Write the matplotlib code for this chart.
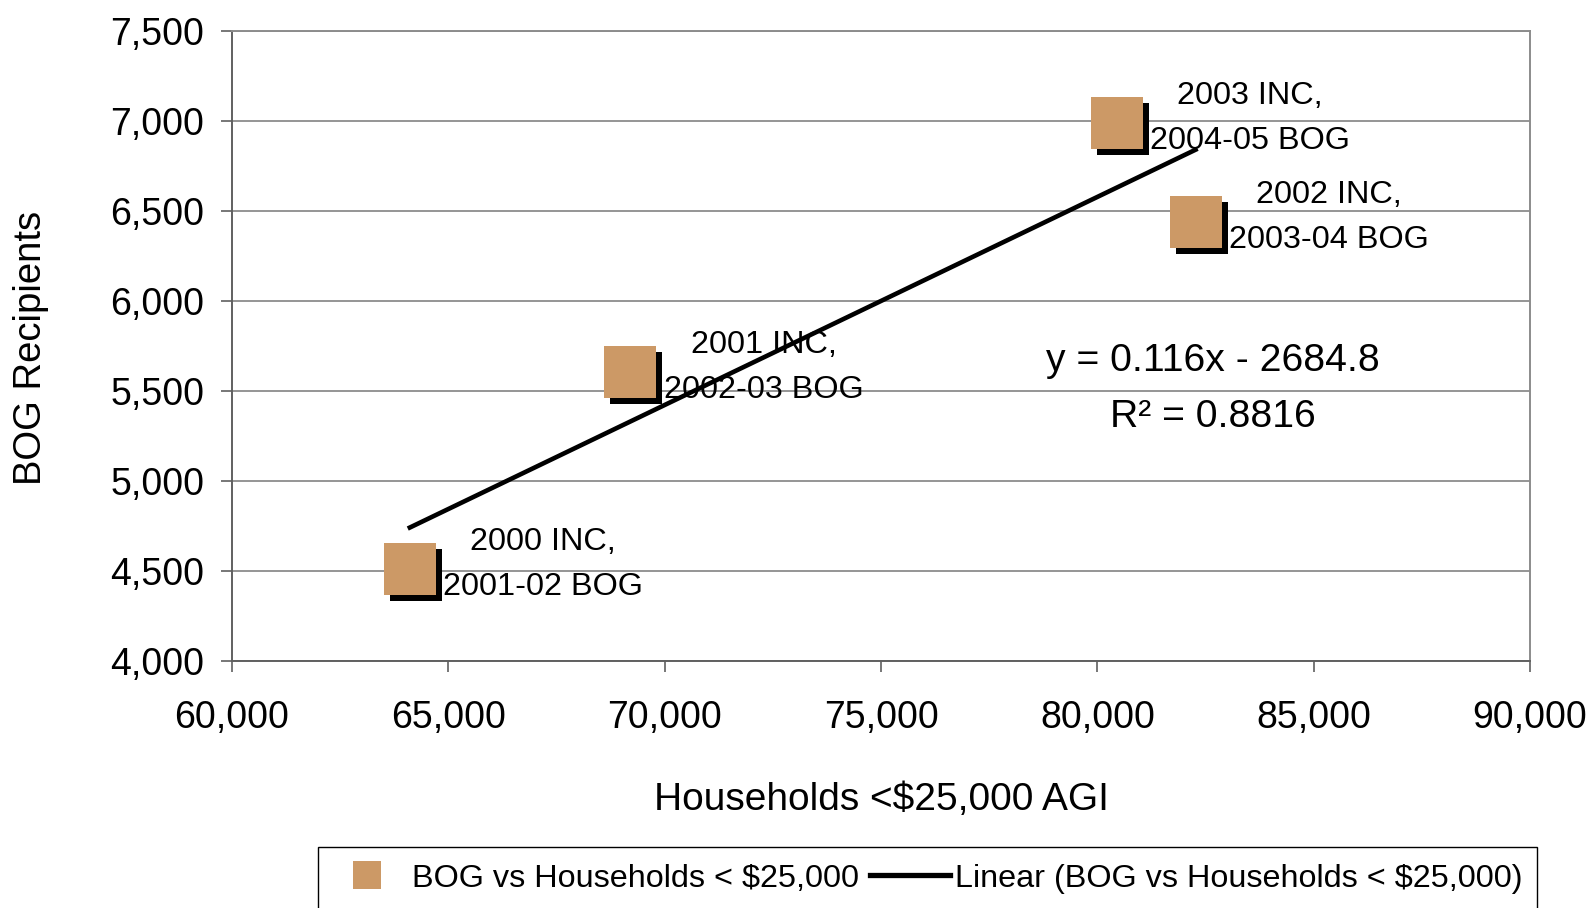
import matplotlib
matplotlib.use("Agg")
import matplotlib.pyplot as plt
import matplotlib.transforms as mtransforms
from matplotlib.lines import Line2D
from matplotlib.patches import Rectangle
from matplotlib.ticker import FuncFormatter
import numpy as np

plt.rcParams['font.family'] = ['Liberation Sans', 'DejaVu Sans']

# ---- data ----
households = [64110, 69210, 80460, 82270]
bog_recipients = [4508, 5604, 6987, 6439]
label_top = ["2000 INC,", "2001 INC,", "2003 INC,", "2002 INC,"]
label_bottom = ["2001-02 BOG", "2002-03 BOG", "2004-05 BOG", "2003-04 BOG"]
x_ticks = [60000, 65000, 70000, 75000, 80000, 85000, 90000]
y_ticks = [4000, 4500, 5000, 5500, 6000, 6500, 7000, 7500]
equation_text = "y = 0.116x - 2684.8"
r2_text = "R² = 0.8816"
x_label = "Households <$25,000 AGI"
y_label = "BOG Recipients"
series_name = "BOG vs Households < $25,000"
trend_name = "Linear (BOG vs Households < $25,000)"

TAN = '#CC9966'
GRID = '#8c8c8c'

fig = plt.figure(figsize=(15.94, 9.08), dpi=100)
ax = fig.add_axes([232/1594, 1-661/908, (1530-232)/1594, (661-30.5)/908])

ax.set_xlim(x_ticks[0], x_ticks[-1])
ax.set_ylim(y_ticks[0], y_ticks[-1])
ax.set_xticks(x_ticks)
ax.set_yticks(y_ticks)
fmt = FuncFormatter(lambda v, p: f"{int(v):,}")
ax.xaxis.set_major_formatter(fmt)
ax.yaxis.set_major_formatter(fmt)
ax.tick_params(axis='both', labelsize=27, length=8, width=1.2, color='#606060', direction='out')
ax.tick_params(axis='x', pad=20)
ax.tick_params(axis='y', pad=12)

ax.grid(axis='y', color=GRID, linewidth=1.3)
ax.set_axisbelow(True)
for side, sp in ax.spines.items():
    sp.set_color(GRID)
    sp.set_linewidth(1.4)
ax.spines['left'].set_color('#606060')
ax.spines['bottom'].set_color('#606060')

# trend line (least squares)
coef = np.polyfit(households, bog_recipients, 1)
xs = np.array([min(households), max(households)])
ax.plot(xs, np.polyval(coef, xs), color='black', linewidth=3.3, zorder=3)

# shadowed square markers
shadow = mtransforms.offset_copy(ax.transData, fig=fig, x=6, y=-6, units='dots')
ax.plot(households, bog_recipients, linestyle='none', marker='s', markersize=37.4,
        markerfacecolor='black', markeredgecolor='black', markeredgewidth=0,
        transform=shadow, zorder=4)
ax.plot(households, bog_recipients, linestyle='none', marker='s', markersize=37.4,
        markerfacecolor=TAN, markeredgecolor=TAN, markeredgewidth=0, zorder=5)

for x, y, t1, t2 in zip(households, bog_recipients, label_top, label_bottom):
    ax.annotate(t1, (x, y), xytext=(133, 27), textcoords='offset pixels',
                ha='center', va='center', fontsize=23.3, zorder=6)
    ax.annotate(t2, (x, y), xytext=(133, -18), textcoords='offset pixels',
                ha='center', va='center', fontsize=23.3, zorder=6)

ax.text(82670, 5666, equation_text, ha='center', va='center', fontsize=28.2)
ax.text(82670, 5355, r2_text, ha='center', va='center', fontsize=28.2)

ax.set_xlabel(x_label, fontsize=28)
ax.xaxis.set_label_coords(0.5, -0.22)
ax.xaxis.label.set_va('center')
ax.set_ylabel(y_label, fontsize=27.5)
ax.yaxis.set_label_coords(-0.155, 0.497)
ax.yaxis.label.set_va('center')

# legend frame (runs off the bottom edge like the reference)
fig.add_artist(Rectangle((318/1594, -20/908), (1537-318)/1594, (908+20-847)/908,
                         transform=fig.transFigure, fill=False,
                         edgecolor='black', linewidth=1.0))

handles = [
    Line2D([], [], linestyle='none', marker='s', markersize=20.5,
           markerfacecolor=TAN, markeredgecolor=TAN, markeredgewidth=0),
    Line2D([], [], color='black', linewidth=3.8),
]
leg = fig.legend(handles, [series_name, trend_name], loc='upper left',
                 bbox_to_anchor=(318/1594, 1-854/908), bbox_transform=fig.transFigure,
                 ncol=2, fontsize=23.3, frameon=False,
                 borderpad=0.3, borderaxespad=0,
                 handlelength=2.45, handletextpad=0.15, columnspacing=0.36)

fig.savefig('out.png', dpi=100)
